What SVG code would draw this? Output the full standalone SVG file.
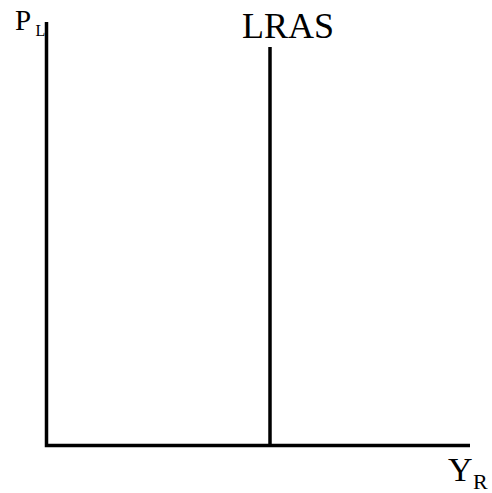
<svg xmlns="http://www.w3.org/2000/svg" width="492" height="493" viewBox="0 0 492 493">
<style>
.t{font-family:"Liberation Serif","Times New Roman",serif;fill:#000}
.ax{stroke:#000;stroke-width:3.5;fill:none}
</style>
<rect width="492" height="493" fill="#fff"/>
<g id="connectors">
<path class="ax" d="M46.5 22 V445.5 H470"/>
<path id="lras-line" class="ax" d="M270 47 V445"/>
</g>
<g id="y-axis-label">
<text class="t" x="15" y="29.5" font-size="29">P</text>
<text class="t" x="35.5" y="36" font-size="16">L</text>
</g>
<g id="lras-label">
<text class="t" x="242" y="38" font-size="36">LRAS</text>
</g>
<g id="x-axis-label">
<text class="t" x="448" y="481" font-size="34">Y</text>
<text class="t" x="473" y="489" font-size="22">R</text>
</g>
</svg>
